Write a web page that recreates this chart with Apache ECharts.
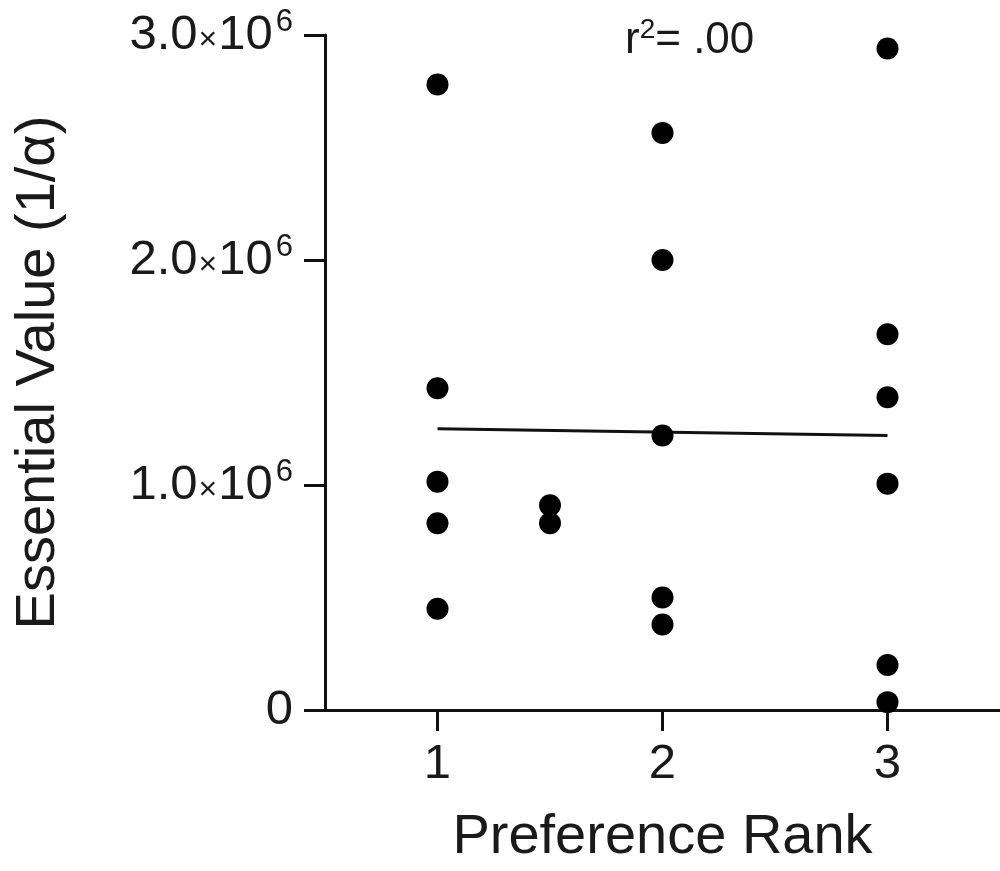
<!DOCTYPE html>
<html>
<head>
<meta charset="utf-8">
<script src="https://cdn.jsdelivr.net/npm/echarts@6/dist/echarts.min.js"></script>
<style>
html,body{margin:0;padding:0;background:#fff;}
#chart{width:1000px;height:871px;}
</style>
</head>
<body>
<div id="chart"></div>
<script>
// Preference rank (x) and essential value (y) for each subject
const rankValues = [1, 1, 1, 1, 1, 1.5, 1.5, 2, 2, 2, 2, 2, 3, 3, 3, 3, 3, 3];
const essentialValues = [2780000, 1430000, 1015000, 830000, 450000,
  910000, 830000,
  2565000, 2000000, 1220000, 500000, 380000,
  2940000, 1670000, 1390000, 1006000, 200000, 35000];
// Regression line endpoints
const fitX = [1, 3];
const fitY = [1250000, 1220000];
const xTicks = [1, 2, 3];
const yTickLabels = {0: '0', 1000000: '1.0', 2000000: '2.0', 3000000: '3.0'};
const xTitle = 'Preference Rank';
const yTitle = 'Essential Value (1/α)';

const FONT = '"Liberation Sans", Arial, sans-serif';
const TXT = '#1a1a1a';

const points = rankValues.map((x, i) => [x, essentialValues[i]]);
const fitLine = fitX.map((x, i) => [x, fitY[i]]);

const chart = echarts.init(document.getElementById('chart'), null, {renderer: 'canvas'});
chart.setOption({
  animation: false,
  backgroundColor: '#fff',
  grid: {left: 325, top: 35, right: 0, bottom: 159, containLabel: false},
  xAxis: {
    type: 'value',
    min: 0.5, max: 3.5,
    splitLine: {show: false},
    axisLine: {show: true, onZero: false, lineStyle: {color: '#111', width: 3}},
    axisTick: {show: true, customValues: xTicks, length: 21, lineStyle: {color: '#111', width: 3}},
    axisLabel: {customValues: xTicks, margin: 30, color: TXT, fontFamily: FONT, fontSize: 49},
    name: xTitle,
    nameLocation: 'middle',
    nameGap: 100,
    nameTextStyle: {color: TXT, fontFamily: FONT, fontSize: 56}
  },
  yAxis: {
    type: 'value',
    min: 0, max: 3000000, interval: 1000000,
    splitLine: {show: false},
    axisLine: {show: true, onZero: false, lineStyle: {color: '#111', width: 3}},
    axisTick: {show: true, length: 21, lineStyle: {color: '#111', width: 3}},
    axisLabel: {
      margin: 32,
      color: TXT, fontFamily: FONT, fontSize: 49,
      formatter: function (v) {
        if (v === 0) return '{b|0}';
        return '{b|' + yTickLabels[v] + '}{x|×}{b|10}{s|6}';
      },
      rich: {
        b: {fontSize: 49, fontFamily: FONT, color: TXT, lineHeight: 56},
        x: {fontSize: 32, fontFamily: FONT, color: TXT, padding: [10, 1, 0, 1]},
        s: {fontSize: 31, fontFamily: FONT, color: TXT, verticalAlign: 'top', padding: [0, 0, 0, 3]}
      }
    },
    name: yTitle,
    nameLocation: 'middle',
    nameGap: 258,
    nameTextStyle: {color: TXT, fontFamily: FONT, fontSize: 56}
  },
  graphic: [{
    type: 'text',
    left: 625, top: 16,
    style: {
      text: '{r|r}{s|2}{r|= .00}',
      rich: {
        r: {fontSize: 44, fontFamily: FONT, fill: TXT, lineHeight: 50},
        s: {fontSize: 28, fontFamily: FONT, fill: TXT, verticalAlign: 'top'}
      }
    }
  }],
  series: [{
    type: 'scatter',
    data: points,
    symbol: 'circle',
    symbolSize: 22,
    itemStyle: {color: '#000', opacity: 1},
    z: 3
  }, {
    type: 'line',
    data: fitLine,
    symbol: 'none',
    lineStyle: {color: '#111', width: 3},
    z: 2
  }]
});
</script>
</body>
</html>
